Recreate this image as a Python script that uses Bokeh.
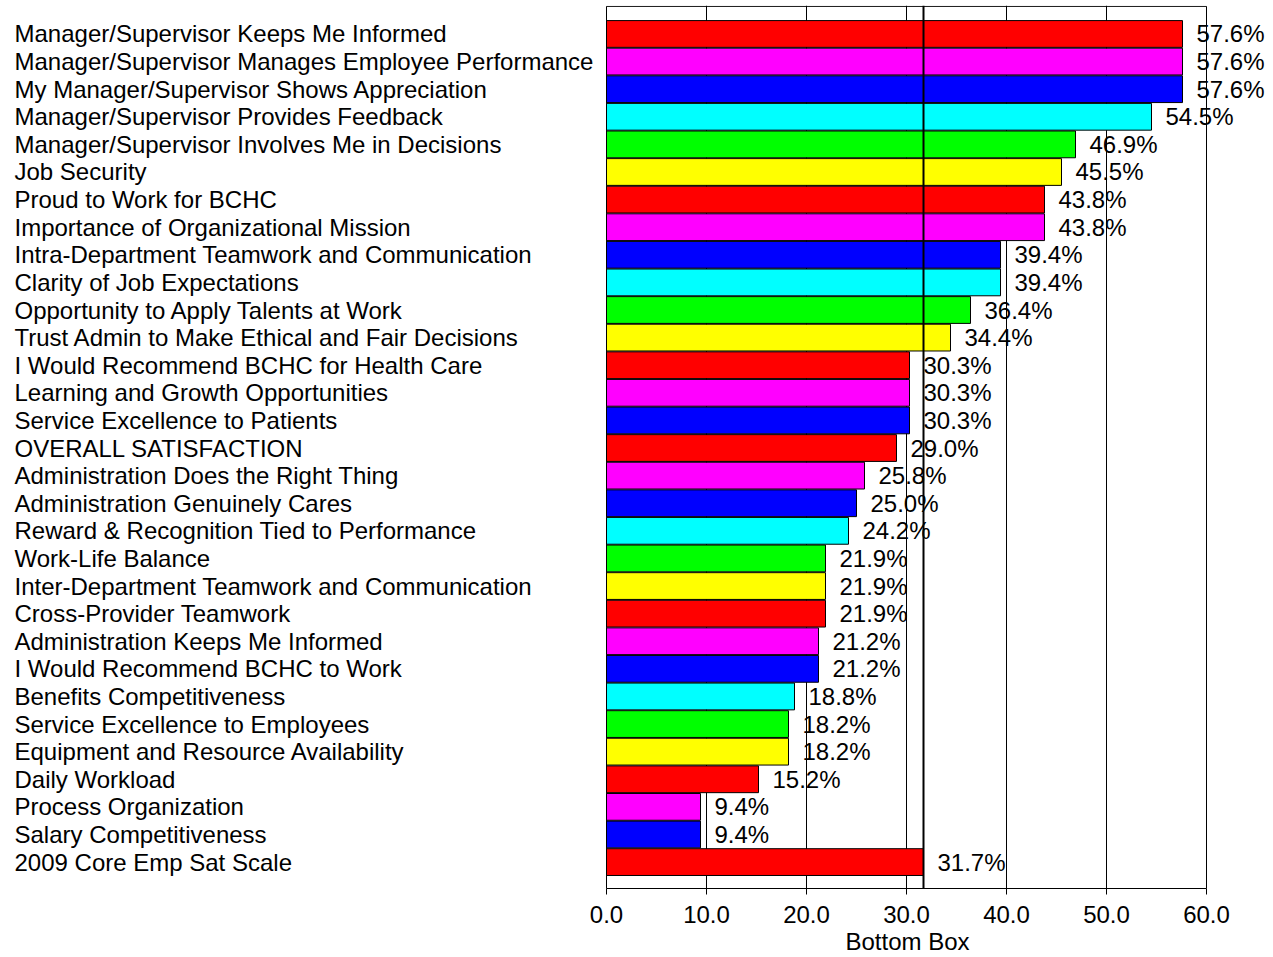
from bokeh.plotting import figure
from bokeh.models import (ColumnDataSource, Span, Range1d, FixedTicker,
                          NumeralTickFormatter, Title)
from bokeh.core.properties import value
from bokeh.embed import file_html
from bokeh.resources import INLINE

categories = [
    "Manager/Supervisor Keeps Me Informed",
    "Manager/Supervisor Manages Employee Performance",
    "My Manager/Supervisor Shows Appreciation",
    "Manager/Supervisor Provides Feedback",
    "Manager/Supervisor Involves Me in Decisions",
    "Job Security",
    "Proud to Work for BCHC",
    "Importance of Organizational Mission",
    "Intra-Department Teamwork and Communication",
    "Clarity of Job Expectations",
    "Opportunity to Apply Talents at Work",
    "Trust Admin to Make Ethical and Fair Decisions",
    "I Would Recommend BCHC for Health Care",
    "Learning and Growth Opportunities",
    "Service Excellence to Patients",
    "OVERALL SATISFACTION",
    "Administration Does the Right Thing",
    "Administration Genuinely Cares",
    "Reward & Recognition Tied to Performance",
    "Work-Life Balance",
    "Inter-Department Teamwork and Communication",
    "Cross-Provider Teamwork",
    "Administration Keeps Me Informed",
    "I Would Recommend BCHC to Work",
    "Benefits Competitiveness",
    "Service Excellence to Employees",
    "Equipment and Resource Availability",
    "Daily Workload",
    "Process Organization",
    "Salary Competitiveness",
    "2009 Core Emp Sat Scale",
]
values = [57.6, 57.6, 57.6, 54.5, 46.9, 45.5, 43.8, 43.8, 39.4, 39.4, 36.4, 34.4,
          30.3, 30.3, 30.3, 29.0, 25.8, 25.0, 24.2, 21.9, 21.9, 21.9, 21.2, 21.2,
          18.8, 18.2, 18.2, 15.2, 9.4, 9.4, 31.7]
palette = ["red", "magenta", "blue", "cyan", "lime", "yellow"]
colors = (palette * 3)[:15] + (palette * 3)[:15] + ["red"]
x_ticks = [0, 10, 20, 30, 40, 50, 60]
reference_value = 31.7
x_title = "Bottom Box"

n = len(categories)
pos = [n - i for i in range(n)]
source = ColumnDataSource(dict(
    y=pos, v=values, c=colors, cat=categories,
    lab=[f"{v:.1f}%" for v in values], zero=[0] * n,
))

FONT = "Liberation Sans"
FS = "24px"

xmin, xmax = x_ticks[0], x_ticks[-1]
y0, box_top = 0.043, n + 1.0

p = figure(width=1270, height=957, output_backend="svg", toolbar_location=None,
           x_range=Range1d(-60.6, 66.4), y_range=Range1d(y0, n + 1.14),
           y_axis_location=None, min_border_left=0, min_border_right=0,
           min_border_top=2, min_border_bottom=69)
p.outline_line_color = None
p.background_fill_color = "white"
p.border_fill_color = "white"

p.ygrid.visible = False
p.xgrid.ticker = FixedTicker(ticks=x_ticks[1:-1])
p.xgrid.grid_line_color = "black"
p.xgrid.grid_line_width = 1
p.xgrid.grid_line_alpha = 1.0
p.xgrid.bounds = (xmin, xmax)

# plot box
p.quad(left=[xmin], right=[xmax], bottom=[y0], top=[box_top],
       fill_color=None, line_color="black", line_width=1)

p.hbar(y="y", left=0, right="v", height=0.97, fill_color="c",
       line_color="black", line_width=1, source=source)

p.add_layout(Span(location=reference_value, dimension="height",
                  line_color="black", line_width=2))
# keep span within box: overlay white above box top
p.quad(left=[xmin - 1], right=[xmax + 1], bottom=[box_top + 0.02], top=[n + 2],
       fill_color="white", line_color=None, level="overlay")

p.text(x="v", y="y", text="lab", x_offset=14, source=source,
       text_font=value(FONT), text_font_size=FS, text_baseline="middle",
       text_color="black")
p.text(x="zero", y="y", text="cat", x_offset=-592, source=source,
       text_font=value(FONT), text_font_size=FS, text_baseline="middle",
       text_align="left", text_color="black")

ax = p.xaxis[0]
ax.bounds = (xmin, xmax)
ax.ticker = FixedTicker(ticks=x_ticks)
ax.formatter = NumeralTickFormatter(format="0.0")
ax.major_tick_out = 6
ax.major_tick_in = 0
ax.minor_tick_line_color = None
ax.axis_line_color = "black"
ax.major_tick_line_color = "black"
ax.major_label_text_font = FONT
ax.major_label_text_font_size = FS
ax.major_label_text_color = "black"
ax.major_label_standoff = 11

xt = Title(text=x_title, align="left", offset=845, text_font=FONT,
           text_font_size=FS, text_font_style="normal", text_color="black",
           standoff=0)
p.add_layout(xt, "below")

open("out.html", "w").write(file_html(p, INLINE))
